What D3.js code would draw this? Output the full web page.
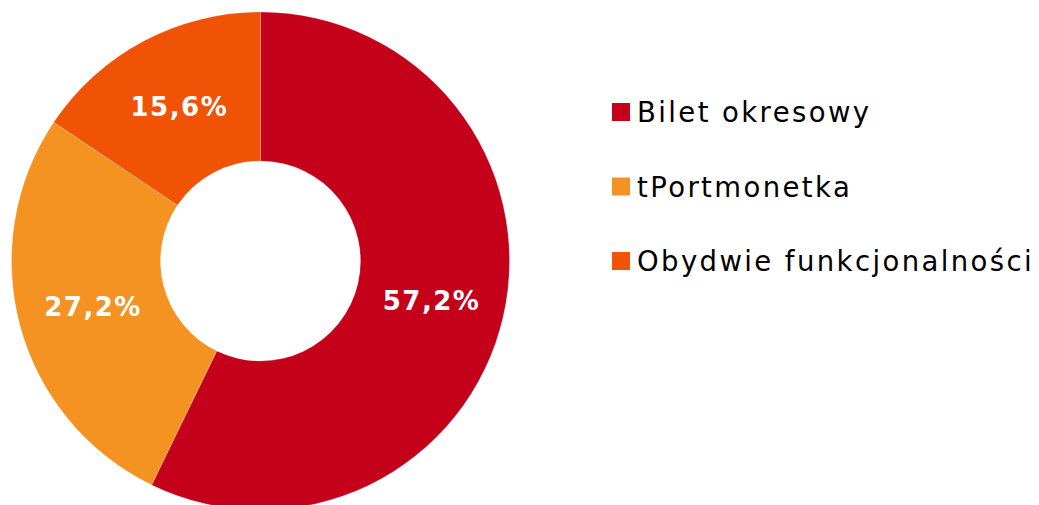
<!DOCTYPE html>
<html>
<head>
<meta charset="utf-8">
<script src="https://cdn.jsdelivr.net/npm/d3@7"></script>
<style>
  body { margin: 0; background: #fff; }
  svg { display: block; }
</style>
</head>
<body>
<script>
const categories = ["Bilet okresowy", "tPortmonetka", "Obydwie funkcjonalności"];
const values = [57.2, 27.2, 15.6];
const labels = ["57,2%", "27,2%", "15,6%"];
const colors = ["#C4001A", "#F59322", "#F05206"];

const W = 1039, H = 505;
const cx = 260.5, cy = 261;
const rOut = 249, rIn = 100;

const svg = d3.select("body").append("svg")
    .attr("width", W).attr("height", H);

const pie = d3.pie().sort(null).value(d => d.value);
const arc = d3.arc().innerRadius(rIn).outerRadius(rOut);

const data = categories.map((c, i) => ({name: c, value: values[i], label: labels[i], color: colors[i]}));

const g = svg.append("g").attr("transform", `translate(${cx},${cy})`);

const slices = g.selectAll("g.slice")
    .data(pie(data))
    .join("g").attr("class", "slice");

slices.append("path")
    .attr("d", arc)
    .attr("fill", d => d.data.color)
    .attr("stroke", "#fff")
    .attr("stroke-width", 0.4)
    .attr("stroke-opacity", 0.5);

slices.append("text")
    .attr("transform", d => `translate(${arc.centroid(d)})`)
    .attr("text-anchor", "middle")
    .attr("dy", "0.36em")
    .attr("dx", "1px")
    .attr("font-family", "Verdana, 'DejaVu Sans', sans-serif")
    .attr("font-weight", "bold")
    .attr("font-size", "26px")
    .attr("letter-spacing", "1.5px")
    .attr("fill", "#fff")
    .text(d => d.data.label);

// legend
const leg = svg.append("g").attr("transform", "translate(612,103)");
const rows = leg.selectAll("g")
    .data(data)
    .join("g")
    .attr("transform", (d, i) => `translate(0,${i * 74.5})`);

rows.append("rect")
    .attr("width", 18).attr("height", 18)
    .attr("fill", d => d.color);

rows.append("text")
    .attr("x", 25).attr("y", 19)
    .attr("font-family", "Verdana, 'DejaVu Sans', sans-serif")
    .attr("font-size", "27.5px")
    .attr("letter-spacing", "2.4px")
    .attr("fill", "#000")
    .text(d => d.name);
</script>
</body>
</html>
